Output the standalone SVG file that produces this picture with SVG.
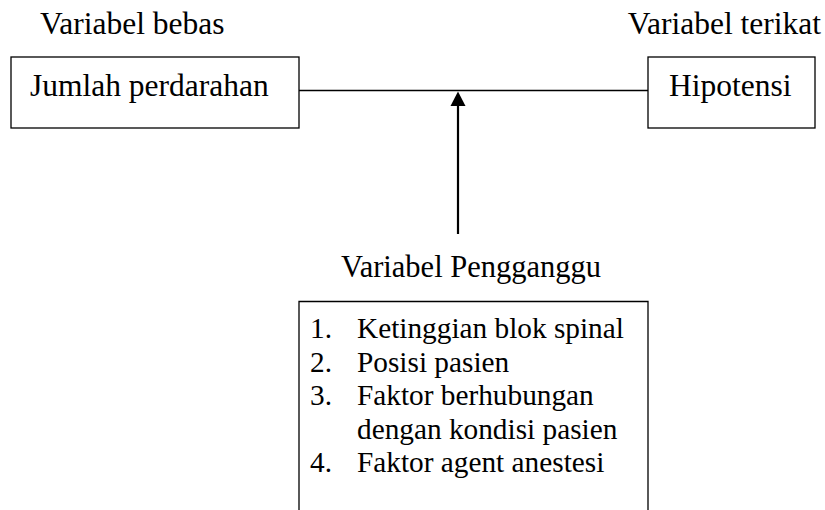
<svg xmlns="http://www.w3.org/2000/svg" width="825" height="510" viewBox="0 0 825 510">
<style>
.t{font-family:'Liberation Serif','Times New Roman',Times,serif;font-size:31.5px;fill:#000}
.s{font-size:29.3px}
.box{fill:#fff;stroke:#000;stroke-width:1.3}
.ln{stroke:#000;stroke-width:1.3;fill:none}
</style>
<rect width="825" height="510" fill="#fff"/>
<g class="t" font-family="Liberation Serif, serif">
<text x="40" y="34">Variabel bebas</text>
<text x="821" y="34" text-anchor="end">Variabel terikat</text>
<text x="341" y="277" font-size="30.5">Variabel Pengganggu</text>
</g>
<g id="connectors">
<line class="ln" x1="299" y1="90.5" x2="648" y2="90.5"/>
<line x1="458" y1="104" x2="458" y2="234" stroke="#000" stroke-width="2.2"/>
<polygon points="458,91.5 450.5,106 465.5,106" fill="#000"/>
</g>
<g id="bebas" class="t" font-family="Liberation Serif, serif">
<rect class="box" x="11" y="57" width="288" height="71"/>
<text x="30" y="96">Jumlah perdarahan</text>
</g>
<g id="terikat" class="t" font-family="Liberation Serif, serif">
<rect class="box" x="648" y="57" width="167" height="71"/>
<text x="669" y="96">Hipotensi</text>
</g>
<g id="pengganggu" class="t" font-family="Liberation Serif, serif">
<path class="ln" d="M299,512 V301.5 H648 V512"/>
<g class="s">
<text x="310" y="338">1.</text><text x="357" y="338">Ketinggian blok spinal</text>
<text x="310" y="371.5">2.</text><text x="357" y="371.5">Posisi pasien</text>
<text x="310" y="405">3.</text><text x="357" y="405">Faktor berhubungan</text>
<text x="357" y="438.5">dengan kondisi pasien</text>
<text x="310" y="472">4.</text><text x="357" y="472">Faktor agent anestesi</text>
</g>
</g>
</svg>
